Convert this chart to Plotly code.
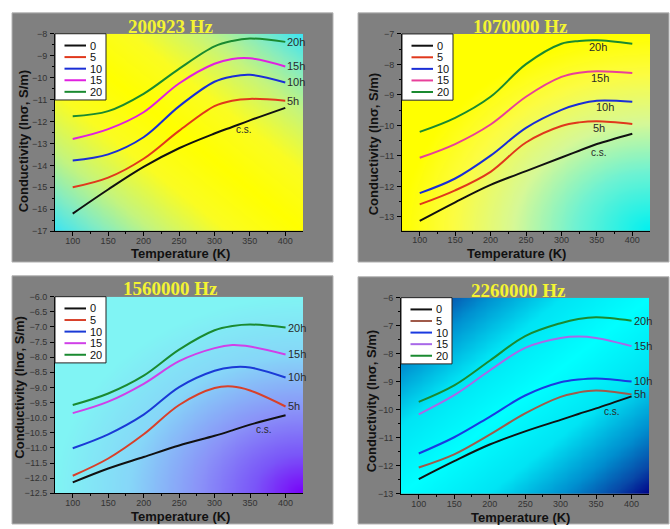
import numpy as np
import plotly.graph_objects as go

W, H = 670, 529

# ---------------- data ----------------
temperature = [100, 150, 200, 250, 300, 325, 350, 400]
series_names = ["0", "5", "10", "15", "20"]
end_labels = ["c.s.", "5h", "10h", "15h", "20h"]
frequencies = ["200923 Hz", "1070000 Hz", "1560000 Hz", "2260000 Hz"]

p1_s0 = [-16.2, -15.1, -14.07, -13.22, -12.55, -12.25, -11.95, -11.38]
p1_s5 = [-15.0, -14.56, -13.7, -12.43, -11.3, -11.05, -10.97, -11.05]
p1_s10 = [-13.78, -13.5, -12.72, -11.31, -10.19, -9.95, -9.87, -10.22]
p1_s15 = [-12.8, -12.35, -11.58, -10.27, -9.37, -9.15, -9.12, -9.49]
p1_s20 = [-11.76, -11.53, -10.74, -9.6, -8.58, -8.33, -8.22, -8.37]

p2_s0 = [-13.13, -12.52, -11.95, -11.5, -11.05, -10.83, -10.61, -10.27]
p2_s5 = [-12.59, -12.13, -11.52, -10.56, -10.02, -9.9, -9.86, -9.95]
p2_s10 = [-12.22, -11.74, -10.99, -10.08, -9.49, -9.3, -9.19, -9.22]
p2_s15 = [-11.06, -10.61, -9.97, -9.06, -8.41, -8.27, -8.22, -8.28]
p2_s20 = [-10.21, -9.75, -9.06, -7.99, -7.32, -7.23, -7.21, -7.32]

p3_s0 = [-12.14, -11.68, -11.3, -10.92, -10.6, -10.42, -10.23, -9.92]
p3_s5 = [-11.92, -11.35, -10.55, -9.58, -9.02, -8.97, -9.1, -9.63]
p3_s10 = [-11.01, -10.55, -9.9, -8.99, -8.45, -8.33, -8.34, -8.67]
p3_s15 = [-9.85, -9.47, -8.88, -8.13, -7.7, -7.6, -7.65, -7.91]
p3_s20 = [-9.58, -9.2, -8.61, -7.75, -7.11, -6.97, -6.92, -7.02]

p4_s0 = [-12.47, -11.83, -11.24, -10.77, -10.36, -10.15, -9.95, -9.52]
p4_s5 = [-12.06, -11.59, -10.89, -10.13, -9.54, -9.38, -9.31, -9.45]
p4_s10 = [-11.56, -10.98, -10.25, -9.49, -9.02, -8.92, -8.88, -8.99]
p4_s15 = [-10.16, -9.48, -8.6, -7.79, -7.44, -7.39, -7.44, -7.73]
p4_s20 = [-9.72, -9.13, -8.25, -7.37, -6.91, -6.76, -6.7, -6.82]

# ---------------- styles ----------------
def px(x):
    return x / W

def py(y):
    return 1 - y / H

X_RANGE = [75, 425]

panels = [
    dict(series=[p1_s0, p1_s5, p1_s10, p1_s15, p1_s20],
         colors=["#111111", "#e0381c", "#1a2ed6", "#e020e0", "#1a8a30"],
         xdom=[55, 303], ydom=[29.3, 230.5], yrange=[-17, -8], dtick=1, minor=0.5, fmt="",
         frame=[12, 333, 8, 262], title_xy=(171, 22), ytitle_xy=(23, 139), xtitle_xy=(180, 253),
         grad="diag", cscale=[[0, "#ffff00"], [0.3, "#fafc22"], [0.6, "#c4f47e"], [0.8, "#86ecc0"], [1, "#3ce4f4"]],
         labels="end", cs_pos=(342, -12.38)),
    dict(series=[p2_s0, p2_s5, p2_s10, p2_s15, p2_s20],
         colors=["#111111", "#e0381c", "#1a2ed6", "#e8409a", "#1a8a30"],
         xdom=[402, 650], ydom=[29.5, 230], yrange=[-13.45, -7], dtick=1, minor=0.5, fmt="",
         frame=[358, 669, 8, 262], title_xy=(520, 22), ytitle_xy=(373, 142), xtitle_xy=(516, 253),
         grad="br", cscale=[[0, "#00f0f0"], [0.3, "#6ef2d2"], [0.55, "#d6f896"], [0.8, "#fcfc40"], [1, "#ffff00"]],
         labels=[(351, -7.43), (355, -8.44), (361, -9.4), (353, -10.08), (353, -10.9)],
         cs_pos=None),
    dict(series=[p3_s0, p3_s5, p3_s10, p3_s15, p3_s20],
         colors=["#111111", "#d8402a", "#1a3ad6", "#d040e8", "#1a8a30"],
         xdom=[55, 303.3], ydom=[297.3, 497.7], yrange=[-12.5, -6.0], dtick=0.5, minor=None, fmt=".1f",
         frame=[12, 333, 276, 529], title_xy=(170, 289), ytitle_xy=(20, 390), xtitle_xy=(180, 521),
         grad="br", cscale=[[0, "#7800f8"], [0.2, "#7a56f8"], [0.42, "#8a92f8"], [0.7, "#86d6f8"], [1, "#80f4f4"]],
         labels="end", cs_pos=(370, -10.39)),
    dict(series=[p4_s0, p4_s5, p4_s10, p4_s15, p4_s20],
         colors=["#111111", "#a05a4a", "#1a3ae0", "#a868e8", "#1a8a30"],
         xdom=[401, 649.3], ydom=[298.3, 498.3], yrange=[-13, -6], dtick=1, minor=0.5, fmt="",
         frame=[358, 669, 277, 529], title_xy=(518, 291), ytitle_xy=(371, 404), xtitle_xy=(520, 522),
         grad="anti", cscale=[[0, "#00ffff"], [0.35, "#00e4f4"], [0.65, "#0090d0"], [0.85, "#0848a8"], [1, "#000088"]],
         labels="end", cs_pos=(372, -10.05)),
]

fig = go.Figure()
shapes = []
annotations = []
layout_axes = {}

for i, P in enumerate(panels):
    n = i + 1
    xa = "x" if n == 1 else f"x{n}"
    ya = "y" if n == 1 else f"y{n}"
    xkey = "xaxis" if n == 1 else f"xaxis{n}"
    ykey = "yaxis" if n == 1 else f"yaxis{n}"
    ymin, ymax = P["yrange"]

    # gradient background
    gx = np.linspace(X_RANGE[0], X_RANGE[1], 90)
    gy = np.linspace(ymin, ymax, 90)
    U, V = np.meshgrid((gx - X_RANGE[0]) / (X_RANGE[1] - X_RANGE[0]), (ymax - gy) / (ymax - ymin))
    if P["grad"] == "diag":
        Z = np.abs(U - V)
    elif P["grad"] == "br":
        Z = np.sqrt((1 - U) ** 2 + (1 - V) ** 2)
    else:
        Z = np.abs(U + V - 1)
    Z = np.clip(Z, 0, 1)
    fig.add_trace(go.Heatmap(x=gx, y=gy, z=Z, colorscale=P["cscale"], zmin=0, zmax=1,
                             zsmooth="best", showscale=False, hoverinfo="skip",
                             xaxis=xa, yaxis=ya))

    for s, vals in enumerate(P["series"]):
        fig.add_trace(go.Scatter(x=temperature, y=vals, mode="lines", name=series_names[s],
                                 line=dict(color=P["colors"][s], width=2, shape="spline", smoothing=1.0),
                                 xaxis=xa, yaxis=ya, showlegend=False, hoverinfo="skip"))

    # axes
    layout_axes[xkey] = dict(domain=[px(P["xdom"][0]), px(P["xdom"][1])], anchor=ya, range=X_RANGE,
                             tickvals=[100, 150, 200, 250, 300, 350, 400], ticks="outside", ticklen=4,
                             tickcolor="black", tickwidth=1, showline=True, linecolor="black", linewidth=1,
                             showgrid=False, zeroline=False, ticklabelstandoff=-3,
                             tickfont=dict(family="Liberation Sans, Arial", size=9, color="#333333"),
                             minor=dict(tickvals=[125, 175, 225, 275, 325, 375], ticks="outside", ticklen=2,
                                        tickcolor="black"))
    yax = dict(domain=[py(P["ydom"][1]), py(P["ydom"][0])], anchor=xa, range=[ymin, ymax],
               dtick=P["dtick"], tick0=0, ticks="outside", ticklen=4, tickcolor="black", tickwidth=1,
               showline=True, linecolor="black", linewidth=1, showgrid=False, zeroline=False,
               tickformat=P["fmt"], ticklabelstandoff=1,
               tickfont=dict(family="Liberation Sans, Arial", size=9, color="#333333"))
    if P["minor"]:
        yax["minor"] = dict(dtick=P["minor"], ticks="outside", ticklen=2, tickcolor="black")
    layout_axes[ykey] = yax

    # grey frame
    fx0, fx1, fy0, fy1 = P["frame"]
    shapes.append(dict(type="rect", xref="paper", yref="paper", x0=px(fx0), x1=px(fx1),
                       y0=py(fy1), y1=py(fy0), fillcolor="#808080",
                       line=dict(color="#b4b4b4", width=1), layer="below"))

    # title
    annotations.append(dict(text="<b>" + frequencies[i] + "</b>", xref="paper", yref="paper",
                            x=px(P["title_xy"][0]), y=py(P["title_xy"][1]), showarrow=False,
                            xanchor="center", yanchor="middle",
                            font=dict(family="Liberation Serif, Times New Roman", size=19, color="#f4f432")))
    annotations.append(dict(text="<b>Conductivity (lnσ, S/m)</b>", xref="paper", yref="paper",
                            x=px(P["ytitle_xy"][0]), y=py(P["ytitle_xy"][1]), showarrow=False,
                            textangle=-90, xanchor="center", yanchor="middle",
                            font=dict(family="Liberation Sans, Arial", size=13, color="#111111")))
    annotations.append(dict(text="<b>Temperature (K)</b>", xref="paper", yref="paper",
                            x=px(P["xtitle_xy"][0]), y=py(P["xtitle_xy"][1]), showarrow=False,
                            xanchor="center", yanchor="middle",
                            font=dict(family="Liberation Sans, Arial", size=13, color="#111111")))

    # curve labels
    lab_font = dict(family="Liberation Sans, Arial", size=11, color="#2a2a2a")
    if P["labels"] == "end":
        for s in range(1, 5):
            annotations.append(dict(text=end_labels[s], xref=xa, yref=ya, x=temperature[-1],
                                    y=P["series"][s][-1], showarrow=False, xanchor="left",
                                    yanchor="middle", xshift=0, font=lab_font))
        annotations.append(dict(text=end_labels[0], xref=xa, yref=ya, x=P["cs_pos"][0], y=P["cs_pos"][1],
                                showarrow=False, xanchor="center", yanchor="middle",
                                font=dict(family="Liberation Sans, Arial", size=10, color="#2a2a2a")))
    else:
        order = [4, 3, 2, 1, 0]
        for k, s in enumerate(order):
            lx, ly = P["labels"][k]
            annotations.append(dict(text=end_labels[s], xref=xa, yref=ya, x=lx, y=ly, showarrow=False,
                                    xanchor="center", yanchor="middle",
                                    font=dict(family="Liberation Sans, Arial", size=11 if s else 10,
                                              color="#2a2a2a")))

    # legend box (manual key)
    xd = xa + " domain"
    yd = ya + " domain"
    pw = P["xdom"][1] - P["xdom"][0]
    ph = P["ydom"][1] - P["ydom"][0]
    shapes.append(dict(type="rect", xref=xd, yref=yd, x0=0, x1=51 / pw, y0=1 - 67.5 / ph, y1=1,
                       fillcolor="white", line=dict(color="#222222", width=1), layer="above"))
    for s in range(5):
        yy = 1 - (12 + 11.8 * s) / ph
        shapes.append(dict(type="line", xref=xd, yref=yd, x0=9.5 / pw, x1=31 / pw, y0=yy, y1=yy,
                           line=dict(color=P["colors"][s], width=2), layer="above"))
        annotations.append(dict(text=series_names[s], xref=xd, yref=yd, x=32.5 / pw, y=yy,
                                showarrow=False, xanchor="left", yanchor="middle",
                                font=dict(family="Liberation Sans, Arial", size=11, color="#111111")))

fig.update_layout(
    width=W, height=H, margin=dict(l=0, r=0, t=0, b=0),
    paper_bgcolor="white", plot_bgcolor="rgba(0,0,0,0)",
    showlegend=False, shapes=shapes, annotations=annotations,
    **layout_axes,
)

fig.write_html("out.html")
